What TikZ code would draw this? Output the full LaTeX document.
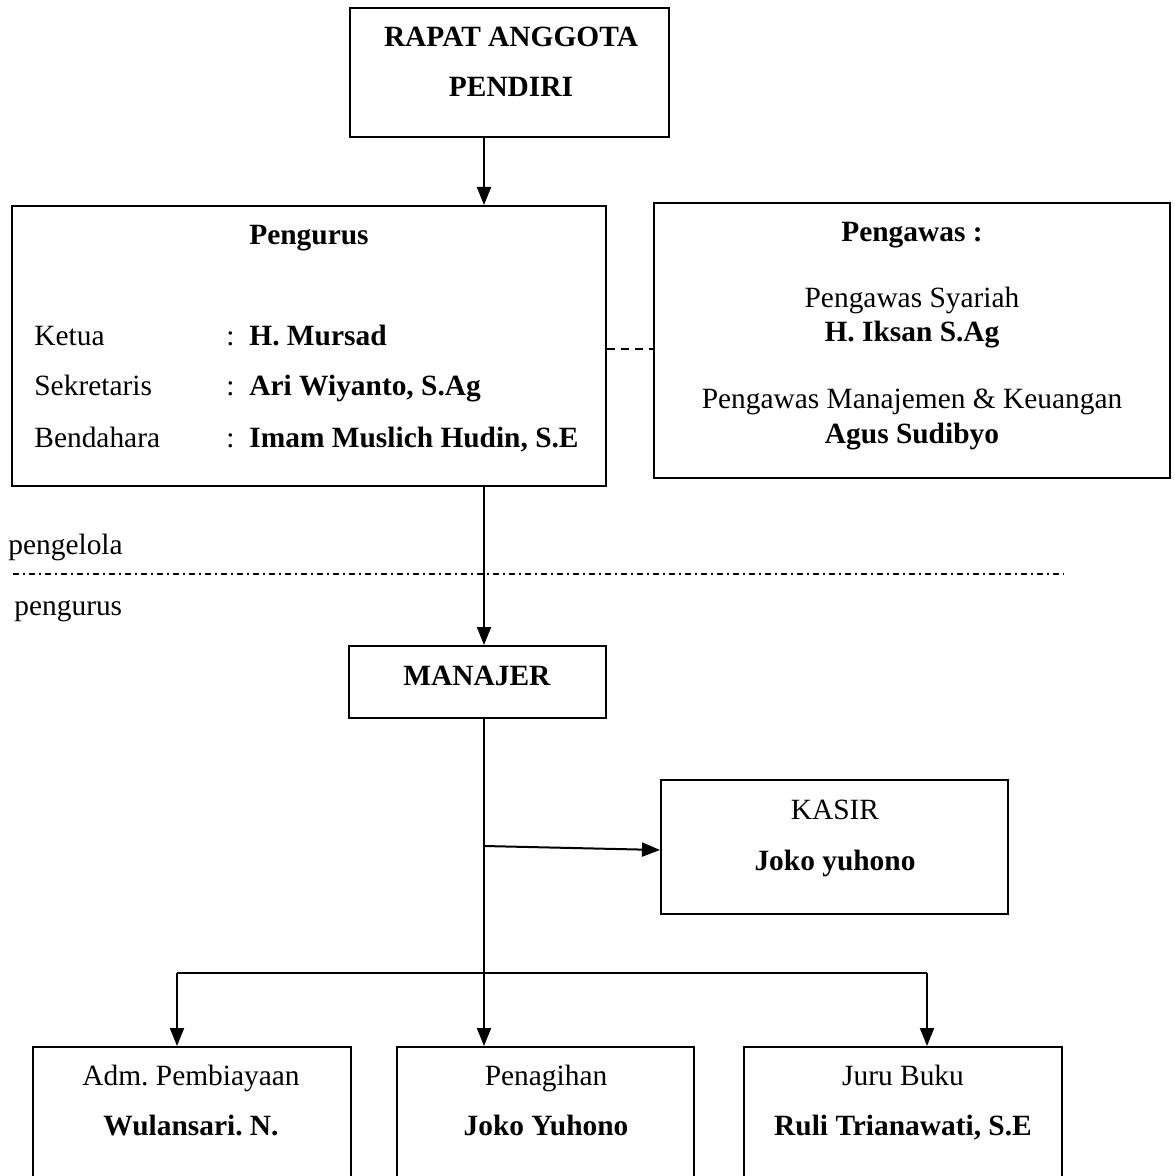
\documentclass[tikz,border=0pt]{standalone}
\usepackage{fontspec}
\setmainfont{Liberation Serif}
\usetikzlibrary{arrows.meta}
\frenchspacing
\tikzset{
  box/.style={draw, line width=1pt, rectangle, inner sep=0pt},
  txt/.style={anchor=base, inner sep=0pt},
  txtl/.style={anchor=base west, inner sep=0pt},
  arr/.style={line width=1pt, -{Triangle[length=9pt,width=7pt]}},
  conn/.style={line width=1pt},
}
\begin{document}
\begin{tikzpicture}[x=0.5pt,y=-0.5pt,font=\fontsize{14.7}{17}\selectfont]
\clip (0,0) rectangle (1174,1176);
\fill[white] (0,0) rectangle (1174,1176);
% boxes
\node[box, minimum width=159.5pt, minimum height=64.5pt] (rapat) at (509.5,72.5) {};
\node[box, minimum width=297pt, minimum height=140pt] (pengurus) at (309,346) {};
\node[box, minimum width=258pt, minimum height=137.5pt] (pengawas) at (912,340.5) {};
\node[box, minimum width=128.5pt, minimum height=36pt] (manajer) at (477.5,682) {};
\node[box, minimum width=173.5pt, minimum height=67pt] (kasir) at (834.5,847) {};
\node[box, minimum width=159pt, minimum height=80pt] (adm) at (191.5,1127) {};
\node[box, minimum width=148.5pt, minimum height=80pt] (penagihan) at (545.5,1127) {};
\node[box, minimum width=159pt, minimum height=80pt] (juru) at (903,1127) {};
% texts
\node[txt] (t1) at (511,47) {\textbf{RAPAT ANGGOTA}};
\node[txt] (t2) at (511,97) {\textbf{PENDIRI}};
\node[txt] (t3) at (309,245) {\textbf{Pengurus}};
\node[txtl] (k1) at (34,345) {Ketua};
\node[txtl] (k2) at (34,395) {Sekretaris};
\node[txtl] (k3) at (34,447) {Bendahara};
\node[txtl] (c1) at (226,345) {:};
\node[txtl] (c2) at (226,395) {:};
\node[txtl] (c3) at (226,447) {:};
\node[txtl] (v1) at (249,345) {\textbf{H. Mursad}};
\node[txtl] (v2) at (249,395) {\textbf{Ari Wiyanto, S.Ag}};
\node[txtl] (v3) at (249,447) {\textbf{Imam Muslich Hudin, S.E}};
\node[txt] (p1) at (912,242) {\textbf{Pengawas :}};
\node[txt] (p2) at (912,307) {Pengawas Syariah};
\node[txt] (p3) at (912,342) {\textbf{H. Iksan S.Ag}};
\node[txt] (p4) at (912,408) {Pengawas Manajemen \& Keuangan};
\node[txt] (p5) at (912,443) {\textbf{Agus Sudibyo}};
\node[txtl] (lg1) at (8,554) {pengelola};
\node[txtl] (lg2) at (14,615) {pengurus};
\node[txt] (m1) at (477,685) {\textbf{MANAJER}};
\node[txt] (ks1) at (835,819) {KASIR};
\node[txt] (ks2) at (835,870) {\textbf{Joko yuhono}};
\node[txt] (a1) at (191,1085) {Adm. Pembiayaan};
\node[txt] (a2) at (191,1135) {\textbf{Wulansari. N.}};
\node[txt] (b1) at (546,1085) {Penagihan};
\node[txt] (b2) at (546,1135) {\textbf{Joko Yuhono}};
\node[txt] (j1) at (903,1085) {Juru Buku};
\node[txt] (j2) at (903,1135) {\textbf{Ruli Trianawati, S.E}};
% divider
\coordinate (dl) at (13,574);
\coordinate (dr) at (1064,574);
\draw[line width=0.7pt, dash pattern=on 3pt off 2pt on 1pt off 2pt] (dl) -- (dr);
% connectors
\coordinate (x0) at (484,0);
\draw[arr] (rapat.south -| x0) -- (pengurus.north -| x0);
\draw[arr] (pengurus.south -| x0) -- (manajer.north -| x0);
\draw[line width=0.8pt, dash pattern=on 4pt off 3pt] (pengurus.east |- 0,349) -- (pengawas.west |- 0,349);
\draw[arr] (manajer.south -| x0) -- (penagihan.north -| x0);
\coordinate (ks) at (484,846);
\draw[arr] (ks) -- (kasir.west |- 0,850);
\coordinate (hl) at (177,973);
\coordinate (hr) at (927,973);
\draw[conn] (hl) -- (hr);
\draw[arr] (hl) -- (hl |- adm.north);
\draw[arr] (hr) -- (hr |- juru.north);
\end{tikzpicture}
\end{document}
